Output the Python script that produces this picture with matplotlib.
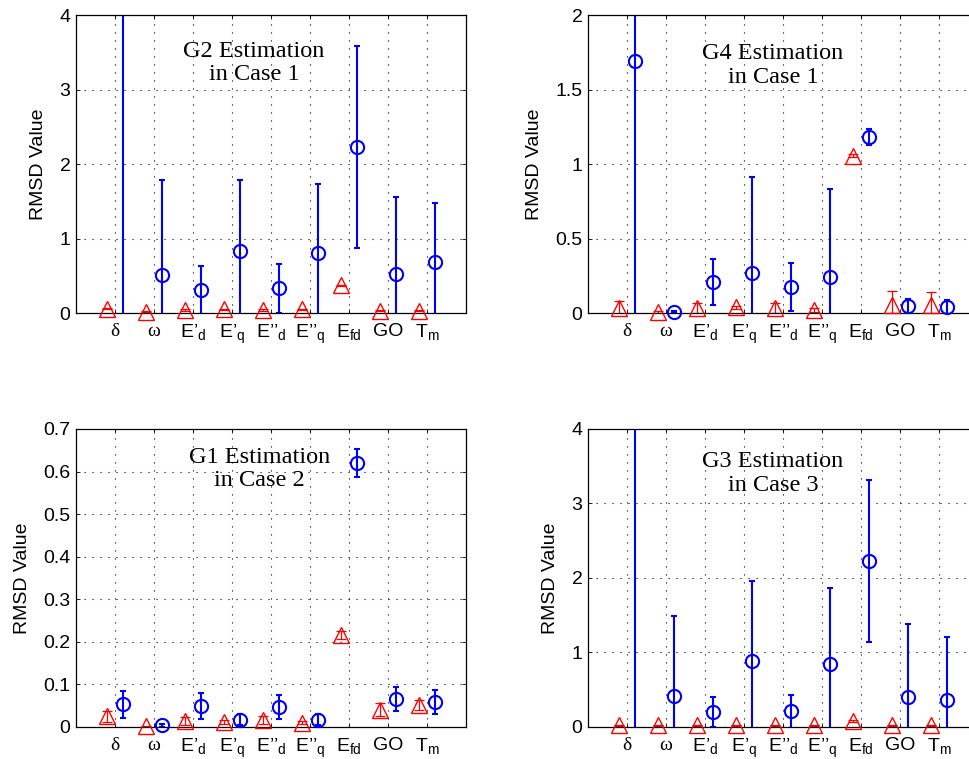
import numpy as np
import matplotlib.pyplot as plt

plt.rcParams['font.family'] = ['Liberation Sans', 'DejaVu Sans']
plt.rcParams['mathtext.fontset'] = 'custom'
plt.rcParams['mathtext.rm'] = 'Liberation Sans'

# State variable names along the x axis
states = ['δ', 'ω', 'E’$_\\mathregular{d}$', 'E’$_\\mathregular{q}$',
          'E’’$_\\mathregular{d}$', 'E’’$_\\mathregular{q}$',
          'E$_\\mathregular{fd}$', 'GO', 'T$_\\mathregular{m}$']

# G2 estimation, case 1
g2_circ = [4.6, 0.51, 0.31, 0.83, 0.33, 0.80, 2.23, 0.52, 0.68]
g2_circ_err = [4.7, 1.28, 0.32, 0.96, 0.33, 0.93, 1.36, 1.04, 0.80]
g2_tri = [0.06, 0.02, 0.04, 0.05, 0.04, 0.05, 0.37, 0.03, 0.03]
g2_tri_err = [0.01, 0.005, 0.01, 0.01, 0.01, 0.01, 0.01, 0.005, 0.005]

# G4 estimation, case 1
g4_circ = [1.69, 0.007, 0.21, 0.27, 0.174, 0.24, 1.18, 0.045, 0.04]
g4_circ_err = [1.9, 0.005, 0.155, 0.64, 0.16, 0.59, 0.055, 0.05, 0.05]
g4_tri = [0.034, 0.007, 0.034, 0.04, 0.034, 0.02, 1.055, 0.056, 0.056]
g4_tri_err = [0.045, 0.004, 0.035, 0.01, 0.035, 0.015, 0.01, 0.09, 0.085]

# G1 estimation, case 2
g1_circ = [0.053, 0.004, 0.049, 0.017, 0.047, 0.017, 0.62, 0.065, 0.059]
g1_circ_err = [0.032, 0.003, 0.03, 0.013, 0.028, 0.013, 0.032, 0.028, 0.028]
g1_tri = [0.025, 0.002, 0.014, 0.012, 0.016, 0.01, 0.216, 0.041, 0.052]
g1_tri_err = [0.013, 0.001, 0.01, 0.004, 0.01, 0.004, 0.01, 0.016, 0.012]

# G3 estimation, case 3
g3_circ = [4.6, 0.42, 0.20, 0.88, 0.21, 0.84, 2.23, 0.40, 0.36]
g3_circ_err = [4.7, 1.07, 0.20, 1.08, 0.22, 1.03, 1.09, 0.98, 0.85]
g3_tri = [0.02, 0.02, 0.02, 0.02, 0.02, 0.02, 0.08, 0.02, 0.02]
g3_tri_err = [0.005, 0.005, 0.005, 0.005, 0.005, 0.005, 0.01, 0.005, 0.005]

panels = [
  # rect, circles, triangles, ylim, yticks, title, title pos
  ([0.0784, 0.5876, 0.4025, 0.3926], g2_circ, g2_circ_err, g2_tri, g2_tri_err,
   4, np.arange(0, 4.1, 1), 'G2 Estimation\nin Case 1', (0.456, 0.84)),
  ([0.6068, 0.5876, 0.4025, 0.3926], g4_circ, g4_circ_err, g4_tri, g4_tri_err,
   2, np.arange(0, 2.1, 0.5), 'G4 Estimation\nin Case 1', (0.474, 0.83)),
  ([0.0784, 0.0422, 0.4025, 0.3926], g1_circ, g1_circ_err, g1_tri, g1_tri_err,
   0.7, np.arange(0, 0.71, 0.1), 'G1 Estimation\nin Case 2', (0.47, 0.866)),
  ([0.6068, 0.0422, 0.4025, 0.3926], g3_circ, g3_circ_err, g3_tri, g3_tri_err,
   4, np.arange(0, 4.1, 1), 'G3 Estimation\nin Case 3', (0.474, 0.85)),
]

fig = plt.figure(figsize=(9.69, 7.59), dpi=100)
x = np.arange(1, len(states) + 1)

for rect, circ, circ_err, tri, tri_err, ymax, yticks, title, tpos in panels:
  ax = fig.add_axes(rect)

  # Error bars stay clipped to the axes, markers near zero are drawn whole
  ax.errorbar(x - 0.2, tri, yerr=tri_err, fmt='none', ecolor='r',
              elinewidth=0.9, capsize=3.5, capthick=0.9)
  ax.errorbar(x + 0.2, circ, yerr=circ_err, fmt='none', ecolor='b',
              elinewidth=1.5, capsize=2.5, capthick=1.5)
  ax.plot(x - 0.2, tri, '^', mfc='none', mec='r', ms=11, mew=1.0,
          clip_on=False, zorder=3)
  ax.plot(x + 0.2, np.minimum(circ, ymax * 1.2), 'o', mfc='none', mec='b',
          ms=9.5, mew=1.5, clip_on=False, zorder=3,
          markevery=[i for i, c in enumerate(circ) if c <= ymax])

  ax.set_xlim(0, 10)
  ax.set_ylim(0, ymax)
  ax.set_xticks(x)
  ax.set_xticklabels(states)
  for lbl in ax.get_xticklabels()[:2]:
    lbl.set_fontfamily('Liberation Serif')
    lbl.set_fontsize(16)
  ax.set_yticks(yticks)
  ax.set_yticklabels(['%g' % round(v, 2) for v in yticks])

  ax.tick_params(direction='in', length=3, width=0.6, labelsize=14,
                 top=True, right=True, pad=4)
  ax.tick_params(axis='x', pad=7)
  ax.grid(True, color='k', linestyle=(0, (1, 6.2)), linewidth=0.8)
  for s in ax.spines.values():
    s.set_linewidth(0.9)

  ax.set_ylabel('RMSD Value', fontsize=14, labelpad=9)
  ax.text(tpos[0], tpos[1], title, transform=ax.transAxes, ha='center',
          va='center', fontsize=17.5, family='Liberation Serif',
          linespacing=1.15)

plt.savefig('out.png', dpi=100)
